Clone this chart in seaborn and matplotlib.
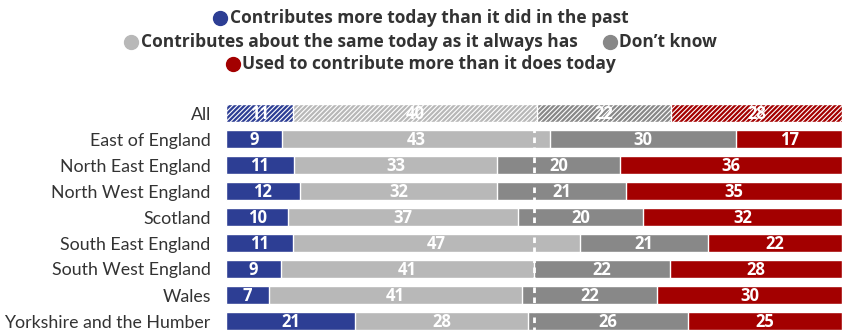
import numpy as np
import pandas as pd
import matplotlib
matplotlib.use("Agg")
import matplotlib.pyplot as plt
from matplotlib.lines import Line2D
import seaborn as sns

regions = ["All", "East of England", "North East England", "North West England",
           "Scotland", "South East England", "South West England", "Wales",
           "Yorkshire and the Humber"]
more_today = [11, 9, 11, 12, 10, 11, 9, 7, 21]
about_same = [40, 43, 33, 32, 37, 47, 41, 41, 28]
dont_know = [22, 30, 20, 21, 20, 21, 22, 22, 26]
used_to = [28, 17, 36, 35, 32, 22, 28, 30, 25]

series_labels = ["Contributes more today than it did in the past",
                 "Contributes about the same today as it always has",
                 "Don\u2019t know",
                 "Used to contribute more than it does today"]
colors = ["#2d3e94", "#b8b8b8", "#888888", "#a30000"]

sns.set_theme(style="white")
plt.rcParams["hatch.linewidth"] = 0.8
plt.rcParams["hatch.color"] = "white"

bold_font = "Open Sans"
label_font = "Lato"

W, H = 842, 330
fig = plt.figure(figsize=(W / 100, H / 100), dpi=100)

# bar area in pixel coordinates
x0, x1 = 226, 842
row_h = 26
first_center = 113
n = len(regions)
top_px = first_center - row_h / 2
bot_px = top_px + n * row_h
ax = fig.add_axes([x0 / W, 1 - bot_px / H, (x1 - x0) / W, (bot_px - top_px) / H])

vals = np.array([more_today, about_same, dont_know, used_to], dtype=float)
shares = vals / vals.sum(axis=0) * 100
cum = np.cumsum(shares, axis=0)

df = pd.DataFrame({"region": regions})
for i in range(4):
    df[f"cum{i}"] = cum[i]

# stacked bars: draw cumulative totals from the widest layer down
patch_groups = []
for i in [3, 2, 1, 0]:
    start = len(ax.patches)
    sns.barplot(data=df, x=f"cum{i}", y="region", orient="h", order=regions,
                color=colors[i], width=0.73, edgecolor="white", linewidth=1.0,
                saturation=1, errorbar=None, ax=ax)
    patch_groups.append(ax.patches[start:])

# hatch the overall row
for group in patch_groups:
    group[0].set_hatch("///////")

# value labels
for r in range(n):
    left = 0.0
    for i in range(4):
        w = shares[i, r]
        ax.text(left + w / 2, r + 0.04, f"{int(vals[i, r])}", ha="center", va="center",
                color="white", fontsize=12, fontweight="bold", family=bold_font)
        left += w

# 50% reference line
ax.vlines(50, 0.55, n - 0.5 + 0.6, colors="white", linewidth=2,
          linestyles=(0, (2, 1.6)), zorder=5)

ax.set_xlim(0, 100)
ax.set_ylim(n - 0.5, -0.5)
ax.set_xlabel("")
ax.set_ylabel("")
ax.set_xticks([])
for s in ax.spines.values():
    s.set_visible(False)
ax.tick_params(axis="y", length=0, pad=11)
for lbl in ax.get_yticklabels():
    lbl.set_fontfamily(label_font)
    lbl.set_fontsize(12.8)
    lbl.set_color("#333333")

# centred legend lines with dot markers
legend_rows = [[0], [1, 2], [3]]
legend_y = [18, 42, 64]
renderer = fig.canvas.get_renderer()
dot_w, dot_gap, item_gap = 13, 3, 26
for row, ypx in zip(legend_rows, legend_y):
    texts = []
    widths = []
    for i in row:
        t = fig.text(0, 1 - ypx / H, series_labels[i], ha="left", va="center",
                     fontsize=12.5, fontweight="bold", color="#333333",
                     family=bold_font)
        texts.append(t)
        widths.append(t.get_window_extent(renderer).width)
    total = sum(dot_w + dot_gap + w for w in widths) + item_gap * (len(row) - 1)
    xpos = (W - total) / 2
    for t, w, i in zip(texts, widths, row):
        fig.add_artist(Line2D([(xpos + dot_w / 2) / W], [1 - ypx / H], marker="o",
                              markersize=10, color=colors[i], linestyle="none",
                              transform=fig.transFigure))
        t.set_x((xpos + dot_w + dot_gap) / W)
        xpos += dot_w + dot_gap + w + item_gap

fig.savefig("out.png", dpi=100)
